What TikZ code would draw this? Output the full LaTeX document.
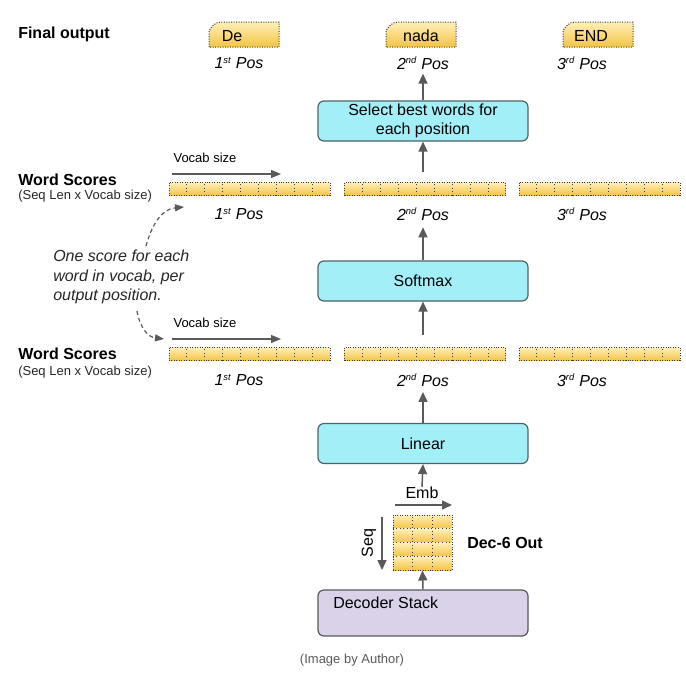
\documentclass[tikz,border=0pt]{standalone}
\usepackage{fontspec}
\setmainfont{Liberation Sans}
\usetikzlibrary{arrows.meta,calc}
\definecolor{arrowgray}{HTML}{5A5A5A}
\definecolor{boxcyan}{HTML}{A2EFF8}
\definecolor{boxedge}{HTML}{4F6466}
\definecolor{lav}{HTML}{D9D2E9}
\definecolor{ylTop}{HTML}{FFEFB8}
\definecolor{ylBot}{HTML}{F3C445}
\definecolor{dotc}{HTML}{3A3A3A}
\tikzset{
  arr/.style={draw=arrowgray, line width=1.1pt, -{Triangle[length=7.5pt,width=6.75pt]}},
  thinarr/.style={draw=arrowgray, line width=0.9pt, -{Triangle[length=7.5pt,width=6pt]}},
  dasharr/.style={draw=arrowgray, line width=0.9pt, dash pattern=on 3pt off 2.25pt, -{Triangle[length=6.75pt,width=5.25pt]}},
  procbox/.style={draw=boxedge, line width=0.9pt, fill=boxcyan, rounded corners=4.5pt, minimum width=157.5pt, minimum height=30pt, align=center, font=\fontsize{12pt}{14.4pt}\selectfont, inner sep=0pt},
  decbox/.style={draw=gray!70!black, line width=0.9pt, fill=lav, rounded corners=4.5pt, minimum width=157.5pt, minimum height=34.5pt},
  stripbox/.style={draw=dotc, line width=0.75pt, dash pattern=on 0.75pt off 1.1pt, top color=ylTop, bottom color=ylBot, minimum width=120.75pt, minimum height=9.75pt, inner sep=0pt},
  gridbox/.style={draw=dotc, line width=0.75pt, dash pattern=on 0.75pt off 1.1pt, minimum width=44.25pt, minimum height=41.25pt, inner sep=0pt},
  rowshade/.style={top color=ylTop, bottom color=ylBot},
  divline/.style={draw=dotc, line width=0.75pt, dash pattern=on 0.75pt off 1.9pt},
  tokshape/.style={draw=dotc, line width=0.75pt, dash pattern=on 0.75pt off 1.1pt, top color=ylTop, bottom color=ylBot},
  tok/.style={font=\fontsize{12pt}{14pt}\selectfont, inner sep=0pt},
  poslbl/.style={font=\fontsize{12pt}{14pt}\selectfont\itshape, inner sep=1pt},
  title/.style={font=\fontsize{12pt}{14pt}\selectfont\bfseries, anchor=west, inner sep=0pt},
  subtitle/.style={font=\fontsize{9.75pt}{12pt}\selectfont, anchor=west, inner sep=0pt, text=black!85},
  small/.style={font=\fontsize{9.75pt}{12pt}\selectfont, inner sep=0pt},
  plain/.style={font=\fontsize{12pt}{14pt}\selectfont, inner sep=0pt},
}
\newcommand{\posl}[2]{#1\textsuperscript{\fontsize{7pt}{8pt}\selectfont #2} Pos}
\begin{document}
\begin{tikzpicture}[x=0.75pt, y=-0.75pt]
\useasboundingbox[fill=white] (0,0) rectangle (686,676);

% ---- Final output ----
\node[title] (finalout) at (18,34) {Final output};
\foreach \xa in {209,386,563}{
  \path[tokshape] (\xa,47) -- (\xa,31) .. controls (\xa+2,27) and (\xa+6,22) .. (\xa+12,22) -- (\xa+70,22) -- (\xa+70,47) -- cycle;
}
\node[tok] (oA) at (232,36) {De};
\node[tok] (oB) at (421,36) {nada};
\node[tok] (oC) at (591,36) {END};
\node[poslbl] (oposA) at (239,63) {\posl{1}{st}};
\node[poslbl] (oposB) at (423,63) {\posl{2}{nd}};
\node[poslbl] (oposC) at (582,63) {\posl{3}{rd}};

% ---- Select box ----
\node[procbox] (select) at (423,121) {Select best words for\\each position};

% ---- Word scores 1 ----
\node[title] (ws1) at (18,180) {Word Scores};
\node[subtitle] (ws1sub) at (18,196) {(Seq Len x Vocab size)};
\node[small] (voc1) at (205,158) {Vocab size};
\coordinate (v1s) at (172,174);
\coordinate (v1e) at (281,174);
\draw[thinarr] (v1s) -- (v1e);
\node[stripbox] (s1a) at (249.5,189) {};
\node[stripbox] (s1b) at (425,189) {};
\node[stripbox] (s1c) at (599.5,189) {};
\node[poslbl] (p1a) at (239,214) {\posl{1}{st}};
\node[poslbl] (p1b) at (423,214) {\posl{2}{nd}};
\node[poslbl] (p1c) at (582,214) {\posl{3}{rd}};

% ---- Softmax ----
\node[procbox] (softmax) at (423,281) {Softmax};

% ---- Note ----
\node[font=\fontsize{12pt}{14.6pt}\selectfont\itshape, align=left, anchor=north west, inner sep=0pt, text=black!85] (note) at (53,250) {One score for each\\word in vocab, per\\output position.};
\coordinate (n1s) at (146,246);
\coordinate (n1e) at (184,207);
\coordinate (n2s) at (137,311);
\coordinate (n2e) at (164,339);
\draw[dasharr] (n1s) .. controls (152,224) and (162,209) .. (n1e);
\draw[dasharr] (n2s) .. controls (140,328) and (148,337) .. (n2e);

% ---- Word scores 2 ----
\node[title] (ws2) at (18,354) {Word Scores};
\node[subtitle] (ws2sub) at (18,372) {(Seq Len x Vocab size)};
\node[small] (voc2) at (205,323) {Vocab size};
\coordinate (v2s) at (172,339);
\coordinate (v2e) at (281,339);
\draw[thinarr] (v2s) -- (v2e);
\node[stripbox] (s2a) at (249.5,354) {};
\node[stripbox] (s2b) at (425,354) {};
\node[stripbox] (s2c) at (599.5,354) {};
\node[poslbl] (p2a) at (239,380) {\posl{1}{st}};
\node[poslbl] (p2b) at (423,380) {\posl{2}{nd}};
\node[poslbl] (p2c) at (582,380) {\posl{3}{rd}};

\foreach \s in {s1a,s1b,s1c,s2a,s2b,s2c}{
  \foreach \i in {1,...,8}{
    \draw[divline] ($(\s.south west)!\i/9!(\s.south east)$) -- ($(\s.north west)!\i/9!(\s.north east)$);
  }
}

% ---- Linear ----
\node[procbox] (linear) at (423,443.5) {Linear};

% ---- Dec-6 out grid ----
\node[plain] (emb) at (422,493) {Emb};
\coordinate (es) at (395,505);
\coordinate (ee) at (452,505);
\draw[arr] (es) -- (ee);
\foreach \r in {0,1,2,3}{
  \shade[rowshade] (393,515+13.75*\r) rectangle (452,515+13.75*\r+13.75);
}
\node[gridbox] (grid) at (422.5,542.5) {};
\foreach \i in {1,2}{
  \draw[divline] ($(grid.south west)!\i/3!(grid.south east)$) -- ($(grid.north west)!\i/3!(grid.north east)$);
}
\foreach \i in {1,2,3}{
  \draw[divline] ($(grid.north west)!\i/4!(grid.south west)$) -- ($(grid.north east)!\i/4!(grid.south east)$);
}
\coordinate (ss) at (382,517);
\coordinate (se) at (382,570);
\draw[arr] (ss) -- (se);
\node[plain, rotate=90] (seq) at (369,543) {Seq};
\node[title] (dec6) at (467,543) {Dec-6 Out};

% ---- Decoder stack ----
\node[decbox] (decoder) at (423,613) {};
\node[plain, anchor=west] (declbl) at (333,603) {Decoder Stack};

% ---- vertical flow arrows ----
\draw[arr] (decoder.north) -- (grid.south);
\draw[arr] (emb.north) -- (linear.south);
\draw[arr] (linear.north) -- ([yshift=-3pt]p2b.south);
\draw[arr] ([yshift=9pt]s2b.north -| softmax.south) -- (softmax.south);
\draw[arr] (softmax.north) -- ([yshift=-4pt]p1b.south);
\draw[arr] ([yshift=7.5pt]s1b.north -| select.south) -- (select.south);
\draw[arr] (select.north) -- ([yshift=-2pt]oposB.south);

% ---- caption ----
\node[small, text=black!65] (caption) at (352,660) {(Image by Author)};
\end{tikzpicture}
\end{document}
